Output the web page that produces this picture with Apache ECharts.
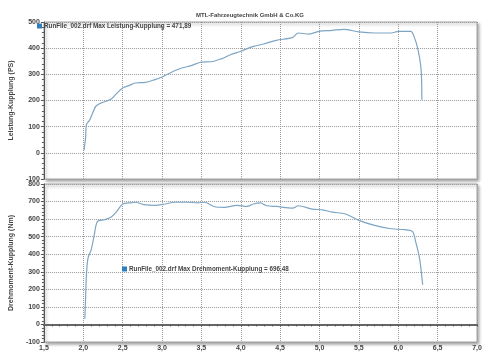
<!DOCTYPE html>
<html><head><meta charset="utf-8">
<script src="https://cdn.jsdelivr.net/npm/echarts@6/dist/echarts.min.js"></script>
<style>html,body{margin:0;padding:0;background:#fff}#c{width:500px;height:353px}</style>
</head><body><div id="c"></div>
<script>
const titleText = "MTL-Fahrzeugtechnik GmbH & Co.KG";
const powerName = "RunFile_002.drf Max Leistung-Kupplung = 471,89";
const torqueName = "RunFile_002.drf Max Drehmoment-Kupplung = 696,48";
const powerAxisName = "Leistung-Kupplung (PS)";
const torqueAxisName = "Drehmoment-Kupplung (Nm)";

const powerRpm = [2.01,2.03,2.04,2.08,2.12,2.16,2.23,2.29,2.36,2.43,2.5,2.58,2.66,2.79,2.91,3.0,3.12,3.25,3.37,3.5,3.62,3.75,3.87,4.0,4.12,4.16,4.29,4.45,4.66,4.73,4.87,4.99,5.16,5.31,5.5,5.7,5.91,6.0,6.16,6.2,6.25,6.29,6.3];
const powerVal = [10,60,108,125,153,178,191,197,207,229,248,257,267,269,280,290,308,324,333,347,348,359,375,388,403,407,416,430,441,458,454,464,468,472,462,458,458,464,464,445,395,318,203];

const torqueRpm = [2.02,2.03,2.04,2.06,2.1,2.14,2.18,2.27,2.35,2.41,2.5,2.58,2.66,2.77,2.91,3.04,3.16,3.33,3.45,3.54,3.66,3.79,3.95,4.08,4.16,4.25,4.33,4.45,4.66,4.73,4.91,5.04,5.16,5.33,5.5,5.7,5.91,6.08,6.18,6.22,6.27,6.31];
const torqueVal = [32,160,283,378,425,511,587,597,610,635,686,692,696,682,678,686,696,696,693,696,672,667,678,672,686,692,676,672,663,676,657,653,640,629,593,564,545,540,530,473,378,226];

const xTicks = [1.5,2.0,2.5,3.0,3.5,4.0,4.5,5.0,5.5,6.0,6.5,7.0];

const pair = (xs, ys) => xs.map((x, i) => [x, ys[i]]);
const lineColor = '#7ea5c3';
const txt = {color:'#444', fontSize:7, fontFamily:'Liberation Sans', fontWeight:'bold'};

const chart = echarts.init(document.getElementById('c'), null, {renderer:'canvas'});
const gridCommon = {show:true, backgroundColor:'#fff', borderColor:'#aaa', borderWidth:1,
  shadowColor:'rgba(0,0,0,0.35)', shadowBlur:3, shadowOffsetX:2, shadowOffsetY:2};
const splitLine = {show:true, lineStyle:{color:'#999', type:'dotted', width:1}};
const yAxisCommon = {type:'value', min:-100, splitLine,
  axisLine:{show:true, lineStyle:{color:'#555', width:1}},
  axisTick:{show:true, length:3, inside:false, lineStyle:{color:'#555'}},
  minorTick:{show:true, splitNumber:5, length:2, lineStyle:{color:'#555'}},
  axisLabel:Object.assign({margin:4}, txt),
  nameLocation:'middle', nameRotate:90, nameGap:16, nameTextStyle:Object.assign({}, txt)};

chart.setOption({
  animation:false,
  title:{text:titleText, left:'center', top:12, padding:0, textStyle:Object.assign({}, txt, {fontSize:6})},
  legend:[
    {data:[powerName], left:37, top:23, padding:0, itemWidth:5, itemHeight:5, icon:'rect',
     textStyle:Object.assign({}, txt, {fontSize:6.3, padding:[0,0,0,-3]})},
    {data:[torqueName], left:122, top:266, padding:0, itemWidth:5, itemHeight:5, icon:'rect',
     textStyle:Object.assign({}, txt, {fontSize:6.3, padding:[0,0,0,-3]})}
  ],
  grid:[
    Object.assign({left:37, right:23, top:22, height:157}, gridCommon),
    Object.assign({left:37, right:23, top:184, height:158}, gridCommon)
  ],
  xAxis:[
    {gridIndex:0, type:'value', min:xTicks[0], max:xTicks[xTicks.length-1], interval:0.5,
     splitLine, axisLine:{show:false}, axisTick:{show:false}, axisLabel:{show:false}},
    {gridIndex:1, type:'value', min:xTicks[0], max:xTicks[xTicks.length-1], interval:0.5,
     splitLine,
     axisLabel:Object.assign({margin:3, formatter:v=>v.toFixed(1).replace('.',',')}, txt),
     axisLine:{show:true, lineStyle:{color:'#666', width:2}},
     axisTick:{show:true, length:2, lineStyle:{color:'#555'}},
     minorTick:{show:true, splitNumber:5, length:2, lineStyle:{color:'#555'}}}
  ],
  yAxis:[
    Object.assign({}, yAxisCommon, {gridIndex:0, max:500, interval:100, name:powerAxisName}),
    Object.assign({}, yAxisCommon, {gridIndex:1, max:800, interval:100, name:torqueAxisName})
  ],
  series:[
    {name:powerName, type:'line', xAxisIndex:0, yAxisIndex:0, data:pair(powerRpm, powerVal),
     showSymbol:false, smooth:0.3, lineStyle:{color:lineColor, width:1.2}, itemStyle:{color:'#2f7fc0'}},
    {name:torqueName, type:'line', xAxisIndex:1, yAxisIndex:1, data:pair(torqueRpm, torqueVal),
     showSymbol:false, smooth:0.3, lineStyle:{color:lineColor, width:1.2}, itemStyle:{color:'#2f7fc0'}}
  ]
});
</script></body></html>
